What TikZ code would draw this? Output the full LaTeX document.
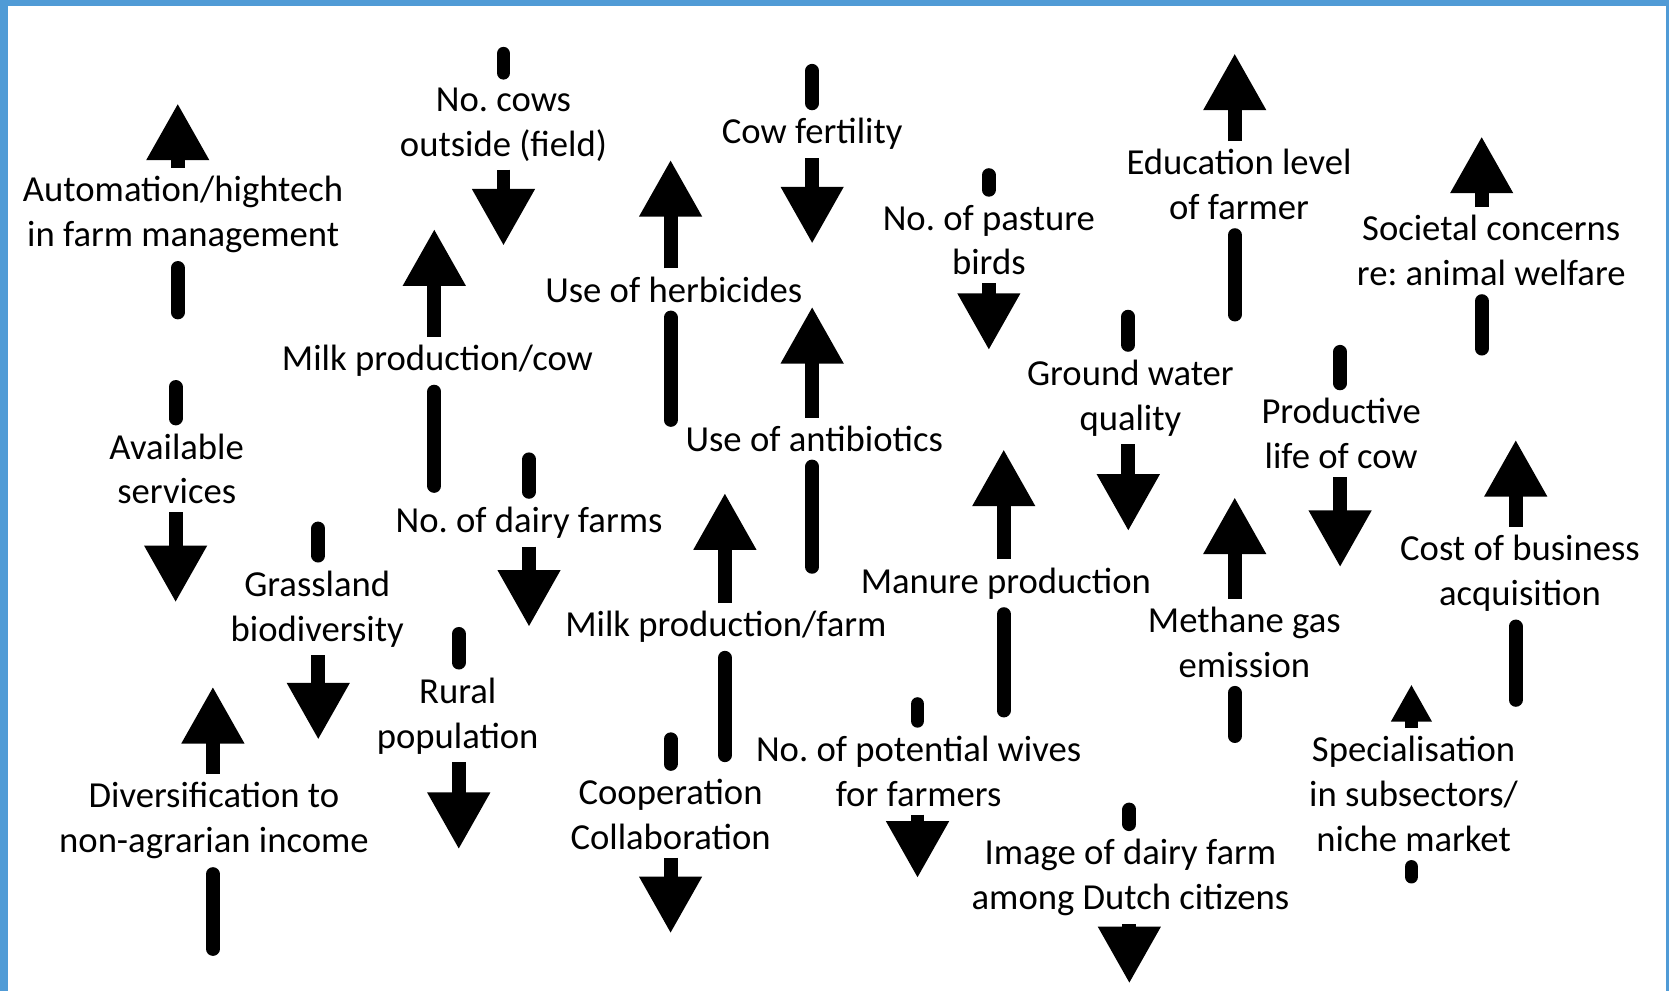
\documentclass[tikz,border=0pt]{standalone}
\usepackage{fontspec}
\setmainfont{Carlito}
\usetikzlibrary{arrows.meta}
\definecolor{frameblue}{RGB}{80,155,214}
\frenchspacing

\begin{document}
\begin{tikzpicture}[
  varbox/.style={inner sep=0.07cm, align=center, font=\fontsize{9.8}{12}\selectfont},
  vtail/.style={line width=3.7pt, line cap=round, shorten <=1.85pt, shorten >=1.85pt},
  vhead/.style={line width=3.7pt, -{Triangle[length=0.535cm, width=0.554cm]}},
  vsmall/.style={line width=3.7pt, -{Triangle[length=0.35cm, width=0.36cm]}}]
\useasboundingbox (0,0) rectangle (15.68,-9.31);
\fill[white] (0,0) rectangle (15.68,-9.31);
\fill[frameblue] (0,0) rectangle (0.075,-9.31);
\fill[frameblue] (0,0) rectangle (15.68,-0.055);
\fill[frameblue] (15.65,0) rectangle (15.68,-9.31);

\node[varbox] (auto) at (1.72,-2.015) {Automation/hightech\\in farm management};
\node[varbox] (cows) at (4.73,-1.17) {No. cows\\outside (field)};
\node[varbox] (milkcow) at (4.11,-3.39) {Milk production/cow};
\node[varbox] (serv) at (1.66,-4.405) {Available\\services};
\node[varbox] (grass) at (2.98,-5.72) {Grassland\\biodiversity};
\node[varbox] (rural) at (4.30,-6.725) {Rural\\population};
\node[varbox] (divers) at (2.01,-7.71) {Diversification to\\non-agrarian income};
\node[varbox] (farms) at (4.97,-4.91) {No. of dairy farms};
\node[varbox] (herb) at (6.33,-2.72) {Use of herbicides};
\node[varbox] (fert) at (7.63,-1.26) {Cow fertility};
\node[varbox] (anti) at (7.65,-4.12) {Use of antibiotics};
\node[varbox] (milkfarm) at (6.82,-5.89) {Milk production/farm};
\node[varbox] (coop) at (6.30,-7.65) {Cooperation\\Collaboration};
\node[varbox] (birds) at (9.29,-2.255) {No. of pasture\\birds};
\node[varbox] (edu) at (11.64,-1.735) {Education level\\of farmer};
\node[varbox] (soc) at (14.01,-2.355) {Societal concerns\\re: animal welfare};
\node[varbox] (ground) at (10.62,-3.74) {Ground water\\quality};
\node[varbox] (life) at (12.60,-4.075) {Productive\\life of cow};
\node[varbox] (manure) at (9.45,-5.48) {Manure production};
\node[varbox] (methane) at (11.69,-6.035) {Methane gas\\emission};
\node[varbox] (cost) at (14.28,-5.385) {Cost of business\\acquisition};
\node[varbox] (spec) at (13.28,-7.46) {Specialisation\\in subsectors/\\niche market};
\node[varbox] (wives) at (8.63,-7.245) {No. of potential wives\\for farmers};
\node[varbox] (image) at (10.62,-8.245) {Image of dairy farm\\among Dutch citizens};

% ends of the arrows
\coordinate (autoH) at (1.67,-0.97);   \coordinate (autoT) at (1.67,-3.00);
\coordinate (cowsT) at (4.73,-0.44);   \coordinate (cowsH) at (4.73,-2.31);
\coordinate (milkcowH) at (4.08,-2.15); \coordinate (milkcowT) at (4.08,-4.63);
\coordinate (servT) at (1.65,-3.57);   \coordinate (servH) at (1.65,-5.66);
\coordinate (grassT) at (2.99,-4.90);  \coordinate (grassH) at (2.99,-6.95);
\coordinate (ruralT) at (4.31,-5.89);  \coordinate (ruralH) at (4.31,-7.98);
\coordinate (diversH) at (2.00,-6.45); \coordinate (diversT) at (2.00,-8.98);
\coordinate (farmsT) at (4.97,-4.25);  \coordinate (farmsH) at (4.97,-5.89);
\coordinate (herbH) at (6.30,-1.50);   \coordinate (herbT) at (6.30,-4.01);
\coordinate (fertT) at (7.63,-0.60);   \coordinate (fertH) at (7.63,-2.29);
\coordinate (antiH) at (7.63,-2.88);   \coordinate (antiT) at (7.63,-5.39);
\coordinate (milkfarmH) at (6.81,-4.63); \coordinate (milkfarmT) at (6.81,-7.16);
\coordinate (coopT) at (6.30,-6.88);   \coordinate (coopH) at (6.30,-8.77);
\coordinate (birdsT) at (9.29,-1.58);  \coordinate (birdsH) at (9.29,-3.29);
\coordinate (eduH) at (11.60,-0.50);   \coordinate (eduT) at (11.60,-3.02);
\coordinate (socH) at (13.92,-1.28);   \coordinate (socT) at (13.92,-3.34);
\coordinate (groundT) at (10.60,-2.91); \coordinate (groundH) at (10.60,-4.99);
\coordinate (lifeT) at (12.59,-3.24);  \coordinate (lifeH) at (12.59,-5.33);
\coordinate (manureH) at (9.43,-4.22); \coordinate (manureT) at (9.43,-6.74);
\coordinate (methaneH) at (11.60,-4.67); \coordinate (methaneT) at (11.60,-6.98);
\coordinate (costH) at (14.24,-4.13);  \coordinate (costT) at (14.24,-6.64);
\coordinate (specH) at (13.26,-6.43);  \coordinate (specT) at (13.26,-8.30);
\coordinate (wivesT) at (8.62,-6.55);  \coordinate (wivesH) at (8.62,-8.25);
\coordinate (imageT) at (10.61,-7.54); \coordinate (imageH) at (10.61,-9.24);

% increasing
\draw[vtail] (autoT) -- (autoT |- auto.south);
\draw[vhead] (autoH |- auto.north) -- (autoH);
\draw[vtail] (milkcowT) -- (milkcowT |- milkcow.south);
\draw[vhead] (milkcowH |- milkcow.north) -- (milkcowH);
\draw[vtail] (diversT) -- (diversT |- divers.south);
\draw[vhead] (diversH |- divers.north) -- (diversH);
\draw[vtail] (herbT) -- (herbT |- herb.south);
\draw[vhead] (herbH |- herb.north) -- (herbH);
\draw[vtail] (antiT) -- (antiT |- anti.south);
\draw[vhead] (antiH |- anti.north) -- (antiH);
\draw[vtail] (milkfarmT) -- (milkfarmT |- milkfarm.south);
\draw[vhead] (milkfarmH |- milkfarm.north) -- (milkfarmH);
\draw[vtail] (eduT) -- (eduT |- edu.south);
\draw[vhead] (eduH |- edu.north) -- (eduH);
\draw[vtail] (socT) -- (socT |- soc.south);
\draw[vhead] (socH |- soc.north) -- (socH);
\draw[vtail] (manureT) -- (manureT |- manure.south);
\draw[vhead] (manureH |- manure.north) -- (manureH);
\draw[vtail] (methaneT) -- (methaneT |- methane.south);
\draw[vhead] (methaneH |- methane.north) -- (methaneH);
\draw[vtail] (costT) -- (costT |- cost.south);
\draw[vhead] (costH |- cost.north) -- (costH);
\draw[vtail] (specT) -- (specT |- spec.south);
\draw[vsmall] (specH |- spec.north) -- (specH);

% decreasing
\draw[vtail] (cowsT) -- (cowsT |- cows.north);
\draw[vhead] (cowsH |- cows.south) -- (cowsH);
\draw[vtail] (servT) -- (servT |- serv.north);
\draw[vhead] (servH |- serv.south) -- (servH);
\draw[vtail] (grassT) -- (grassT |- grass.north);
\draw[vhead] (grassH |- grass.south) -- (grassH);
\draw[vtail] (ruralT) -- (ruralT |- rural.north);
\draw[vhead] (ruralH |- rural.south) -- (ruralH);
\draw[vtail] (farmsT) -- (farmsT |- farms.north);
\draw[vhead] (farmsH |- farms.south) -- (farmsH);
\draw[vtail] (fertT) -- (fertT |- fert.north);
\draw[vhead] (fertH |- fert.south) -- (fertH);
\draw[vtail] (coopT) -- (coopT |- coop.north);
\draw[vhead] (coopH |- coop.south) -- (coopH);
\draw[vtail] (birdsT) -- (birdsT |- birds.north);
\draw[vhead] (birdsH |- birds.south) -- (birdsH);
\draw[vtail] (groundT) -- (groundT |- ground.north);
\draw[vhead] (groundH |- ground.south) -- (groundH);
\draw[vtail] (lifeT) -- (lifeT |- life.north);
\draw[vhead] (lifeH |- life.south) -- (lifeH);
\draw[vtail] (wivesT) -- (wivesT |- wives.north);
\draw[vhead] (wivesH |- wives.south) -- (wivesH);
\draw[vtail] (imageT) -- (imageT |- image.north);
\draw[vhead] (imageH |- image.south) -- (imageH);
\end{tikzpicture}
\end{document}
